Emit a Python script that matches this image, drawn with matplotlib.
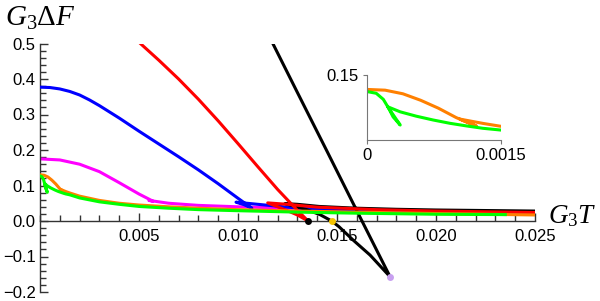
import matplotlib
matplotlib.use('Agg')
import matplotlib.pyplot as plt
from matplotlib.ticker import MultipleLocator, FixedLocator

plt.rcParams['font.family'] = ['Liberation Sans', 'DejaVu Sans']
plt.rcParams['mathtext.fontset'] = 'custom'
plt.rcParams['mathtext.rm'] = 'Liberation Serif'
plt.rcParams['mathtext.it'] = 'Liberation Serif:italic'

# blue: branch 1 to cusp, back to second cusp, then on to the right
blue_x = [0, 0.0005, 0.001, 0.0015, 0.002, 0.0025, 0.003, 0.004, 0.005, 0.006, 0.007, 0.008,
          0.009, 0.010, 0.0107, 0.0103, 0.0099, 0.0110, 0.0125, 0.0141, 0.016, 0.018, 0.020, 0.025]
blue_y = [0.377, 0.376, 0.372, 0.365, 0.355, 0.341, 0.325, 0.290, 0.253, 0.217, 0.181, 0.144,
          0.105, 0.064, 0.036, 0.046, 0.053, 0.047, 0.039, 0.032, 0.029, 0.027, 0.025, 0.021]

red_x = [0.00505, 0.006, 0.007, 0.008, 0.009, 0.010, 0.011, 0.012, 0.013, 0.01354,
         0.0130, 0.0125, 0.0120, 0.0115, 0.0125, 0.014, 0.017, 0.020, 0.025]
red_y = [0.501, 0.453, 0.400, 0.343, 0.282, 0.218, 0.153, 0.089, 0.030, 0.0,
         0.017, 0.029, 0.040, 0.051, 0.047, 0.039, 0.032, 0.028, 0.024]

black_x = [0.01175, 0.0130, 0.0145, 0.0160, 0.01768,
           0.01667, 0.01582, 0.01510, 0.01473, 0.01414, 0.01347, 0.01263, 0.01237,
           0.0130, 0.0141, 0.0160, 0.018, 0.020, 0.025]
black_y = [0.501, 0.362, 0.196, 0.029, -0.157,
           -0.096, -0.054, -0.016, 0.0, 0.018, 0.032, 0.045, 0.049,
           0.047, 0.041, 0.036, 0.033, 0.031, 0.028]

pink_x = [0, 0.001, 0.002, 0.003, 0.004, 0.005, 0.0057, 0.0055, 0.0065, 0.008, 0.010,
          0.012, 0.014, 0.017, 0.020, 0.025]
pink_y = [0.175, 0.172, 0.160, 0.139, 0.108, 0.076, 0.056, 0.058, 0.050, 0.044, 0.040,
          0.037, 0.034, 0.030, 0.027, 0.022]

orange_x = [0, 0.0002, 0.0004, 0.0006, 0.0008, 0.001, 0.00123, 0.00104, 0.0013, 0.0015,
            0.002, 0.003, 0.004, 0.005, 0.0065, 0.008, 0.010, 0.013, 0.016, 0.020, 0.025]
orange_y = [0.130, 0.129, 0.124, 0.115, 0.104, 0.091, 0.079, 0.089, 0.083, 0.079,
            0.070, 0.058, 0.050, 0.045, 0.040, 0.036, 0.032, 0.028, 0.025, 0.021, 0.017]

green_x = [0, 0.0001, 0.00018, 0.00024, 0.00029, 0.00037, 0.00023, 0.00037, 0.00055, 0.00074,
           0.00093, 0.00112, 0.0013, 0.0015, 0.002, 0.003, 0.004, 0.005, 0.0065, 0.008,
           0.010, 0.013, 0.016, 0.020, 0.0235]
green_y = [0.127, 0.1247, 0.1163, 0.104, 0.092, 0.0807, 0.106, 0.099, 0.093, 0.0877,
           0.0831, 0.0794, 0.0762, 0.0738, 0.065, 0.054, 0.047, 0.041, 0.036, 0.032,
           0.029, 0.025, 0.022, 0.019, 0.018]

# special points on the axis / cusp
dot_x = [0.01352, 0.01473, 0.01768]
dot_y = [0.0, 0.0, -0.157]
dot_c = ['black', '#f5c400', '#c8a0f0']

x_ticks = [0.005, 0.010, 0.015, 0.020, 0.025]
x_labels = ['0.005', '0.010', '0.015', '0.020', '0.025']
y_ticks = [-0.2, -0.1, 0.0, 0.1, 0.2, 0.3, 0.4, 0.5]
y_labels = ['\u22120.2', '\u22120.1', '0.0', '0.1', '0.2', '0.3', '0.4', '0.5']

fig = plt.figure(figsize=(6, 3.01), dpi=100)
ax = fig.add_axes([40/600, 9/301, 495/600, 248.5/301])

lw = 2.2
ax.plot(pink_x, pink_y, color='#ff00ff', lw=lw, zorder=2)
ax.plot(blue_x, blue_y, color='#0000ff', lw=lw, zorder=3)
ax.plot(black_x, black_y, color='black', lw=lw, zorder=4)
ax.plot(red_x, red_y, color='#ff0000', lw=lw, zorder=5)
ax.plot(orange_x, orange_y, color='#ff8000', lw=lw, zorder=6)
ax.plot(green_x, green_y, color='#00ff00', lw=lw, zorder=7)
for xx, yy, cc in zip(dot_x, dot_y, dot_c):
    ax.plot(xx, yy, 'o', color=cc, ms=5, mec='none', zorder=10, clip_on=False)

ax.set_xlim(0, 0.025)
ax.set_ylim(-0.2, 0.5)
ax.spines['top'].set_visible(False)
ax.spines['right'].set_visible(False)
ax.spines['bottom'].set_position(('data', 0))
for s in ['left', 'bottom']:
    ax.spines[s].set_color('#333333')
    ax.spines[s].set_linewidth(1.0)
ax.xaxis.set_major_locator(FixedLocator(x_ticks))
ax.set_xticklabels(x_labels)
ax.xaxis.set_minor_locator(MultipleLocator(0.001))
ax.yaxis.set_major_locator(FixedLocator(y_ticks))
ax.set_yticklabels(y_labels)
ax.yaxis.set_minor_locator(MultipleLocator(0.02))
ax.tick_params(which='both', direction='in', colors='#333333', labelcolor='black', labelsize=12)
ax.tick_params(which='major', length=6, width=1.0)
ax.tick_params(which='minor', length=4, width=1.0)
ax.tick_params(axis='x', pad=6)
ax.tick_params(axis='y', pad=3)

fig.text(5/600, 1 - 18/301, r'$\mathit{G_3\Delta F}$', fontsize=21, va='center', ha='left')
fig.text(548/600, 1 - 216/301, r'$\mathit{G_3T}$', fontsize=19.5, va='center', ha='left')

# inset
ins = fig.add_axes([367.3/600, 161/301, 133.4/600, 65/301])
ins.patch.set_alpha(0)
ins.plot(orange_x, orange_y, color='#ff8000', lw=lw)
ins.plot(green_x, green_y, color='#00ff00', lw=lw)
ins.set_xlim(0, 0.0015)
ins.set_ylim(0.06, 0.15)
ins.spines['top'].set_visible(False)
ins.spines['right'].set_visible(False)
for s in ['left', 'bottom']:
    ins.spines[s].set_color('#777777')
ins.set_xticks([0, 0.0015])
ins.set_xticklabels(['0', '0.0015'])
ins.set_yticks([0.15])
ins.set_yticklabels(['0.15'])
ins.tick_params(direction='out', length=3, colors='#777777', labelcolor='black', labelsize=12, pad=3)

fig.savefig('out.png', dpi=100)
